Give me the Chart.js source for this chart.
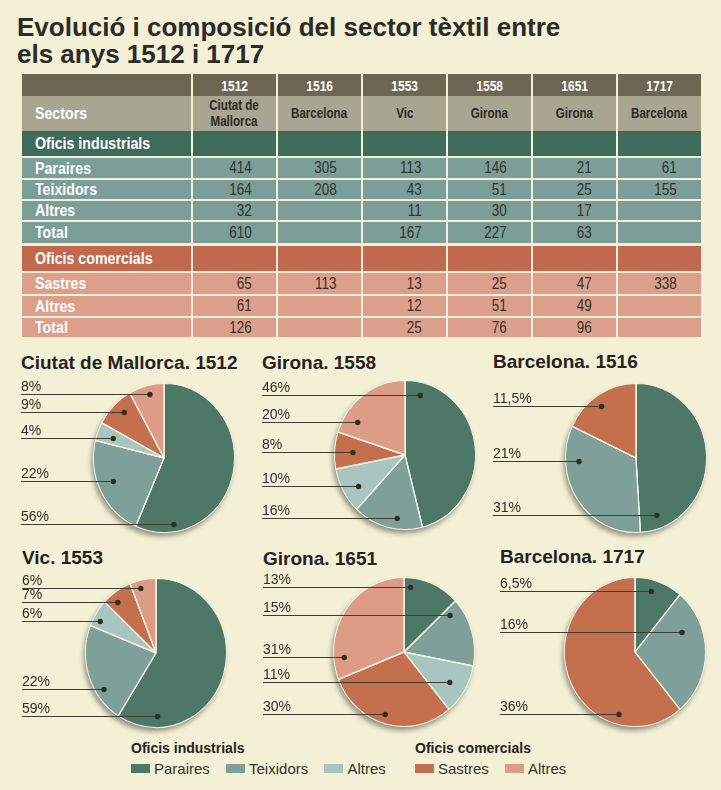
<!DOCTYPE html>
<html lang="ca">
<head>
<meta charset="utf-8">
<title>Evolució i composició del sector tèxtil</title>
<script src="https://cdn.jsdelivr.net/npm/chart.js@4.4.1/dist/chart.umd.min.js"></script>
<style>
    html, body { margin: 0; padding: 0; }
    body {
        width: 721px; height: 790px; position: relative; overflow: hidden;
        background: #f3f0d5; color: #2b2a26;
        font-family: "Liberation Sans", Arial, sans-serif;
    }
    h1 {
        position: absolute; left: 17px; top: 14px; margin: 0;
        font-size: 26px; line-height: 26.5px; font-weight: bold; color: #2b2b28;
    }
    .cell {
        position: absolute; box-sizing: border-box; display: flex; align-items: center;
        white-space: nowrap;
    }
    .cell span { display: inline-block; transform: scaleX(0.86); }
    .lbl { color: #fff; font-weight: bold; font-size: 16.5px; padding-left: 13px; }
    .lbl span { transform-origin: left center; }
    .num { justify-content: flex-end; padding-right: 24px; font-size: 16px; color: #34322c; }
    .num span { transform: scaleX(0.84); transform-origin: right center; }
    .yr { justify-content: center; color: #fff; font-weight: bold; font-size: 15px; }
    .city { justify-content: center; text-align: center; color: #2b2a25; font-weight: bold; font-size: 14.5px; line-height: 15.5px; }
    .yr span, .city span { transform: scaleX(0.8); transform-origin: center; }
    .pie-title { position: absolute; margin: 0; font-size: 19px; line-height: 19px; font-weight: bold; color: #24231f; white-space: nowrap; }
    canvas { position: absolute; }
    .legend { position: absolute; font-size: 15px; color: #34332e; }
    .legend b { display: block; font-size: 14px; color: #24231f; margin-bottom: 3px; }
    .legend span { display: inline-flex; align-items: center; margin-right: 12px; }
    .legend i { display: inline-block; width: 19px; height: 9px; margin-right: 4px; }
</style>
</head>
<body>
<h1>Evolució i composició del sector tèxtil entre<br>els anys 1512 i 1717</h1>
<div id="table"></div>
<div id="pies"></div>
<div class="legend" style="left:131px; top:740px">
    <b>Oficis industrials</b>
    <span><i style="background:#4d7767"></i>Paraires</span>
    <span><i style="background:#7fa098"></i>Teixidors</span>
    <span><i style="background:#a9c5c0"></i>Altres</span>
</div>
<div class="legend" style="left:415px; top:740px">
    <b>Oficis comercials</b>
    <span><i style="background:#c4704f"></i>Sastres</span>
    <span><i style="background:#dc9c85"></i>Altres</span>
</div>
<script>
// dades de la taula
const years = ['1512', '1516', '1553', '1558', '1651', '1717']
const places = ['Ciutat de\nMallorca', 'Barcelona', 'Vic', 'Girona', 'Girona', 'Barcelona']
const paraires = [414, 305, 113, 146, 21, 61]
const teixidors = [164, 208, 43, 51, 25, 155]
const altresInd = [32, null, 11, 30, 17, null]
const totalInd = [610, null, 167, 227, 63, null]
const sastres = [65, 113, 13, 25, 47, 338]
const altresCom = [61, null, 12, 51, 49, null]
const totalCom = [126, null, 25, 76, 96, null]

// dades dels pastissos (percentatges llegits del gràfic)
const sliceNames = ['Paraires', 'Teixidors', 'Altres', 'Sastres', 'Altres']
const pieTitles = ['Ciutat de Mallorca. 1512', 'Girona. 1558', 'Barcelona. 1516', 'Vic. 1553', 'Girona. 1651', 'Barcelona. 1717']
const slicesAll = [0, 1, 2, 3, 4]
const slicesBarcelona = [0, 1, 3]
const sharesMallorca1512 = [56, 22, 4, 9, 8]
const labelsMallorca1512 = ['56%', '22%', '4%', '9%', '8%']
const sharesGirona1558 = [46, 16, 10, 8, 20]
const labelsGirona1558 = ['46%', '16%', '10%', '8%', '20%']
const sharesBarcelona1516 = [49, 33, 18]
const labelsBarcelona1516 = ['31%', '21%', '11,5%']
const sharesVic1553 = [59, 22, 6, 7, 6]
const labelsVic1553 = ['59%', '22%', '6%', '7%', '6%']
const sharesGirona1651 = [13, 15, 11, 30, 31]
const labelsGirona1651 = ['13%', '15%', '11%', '30%', '31%']
const sharesBarcelona1717 = [11, 28, 61]
const labelsBarcelona1717 = ['6,5%', '16%', '36%']

const sliceColors = ['#4d7767', '#7fa098', '#a9c5c0', '#c4704f', '#dc9c85']
const seamColor = '#f4f2e2'

// ---- taula ----
const table = document.getElementById('table')
const colX = i => i === 0 ? 22 : 193 + (i - 1) * 85
const colW = i => i === 0 ? 169 : 83

function addCell(i, top, h, bg, cls, html) {
    const d = document.createElement('div')
    d.className = 'cell ' + (cls || '')
    d.style.cssText = `left:${colX(i)}px;top:${top}px;width:${colW(i)}px;height:${h}px;background:${bg}`
    if (html != null && html !== '') d.innerHTML = `<span>${html}</span>`
    table.appendChild(d)
}

function addRow(top, h, bg, label, values, cls) {
    addCell(0, top, h, bg, 'lbl', label)
    for (let i = 0; i < 6; i++) {
        addCell(i + 1, top, h, bg, cls, values ? values[i] : null)
    }
}

addRow(74, 22, '#6c6652', '', years, 'yr')
addRow(96, 35, '#a8a690', 'Sectors', places.map(p => p.replace('\n', '<br>')), 'city')
addRow(131, 25, '#3f6b5c', 'Oficis industrials', null)
addRow(158, 20, '#7b9f98', 'Paraires', paraires, 'num')
addRow(180, 19, '#7b9f98', 'Teixidors', teixidors, 'num')
addRow(201, 19, '#7b9f98', 'Altres', altresInd, 'num')
addRow(222, 21, '#7b9f98', 'Total', totalInd, 'num')
addRow(246, 25, '#c0694f', 'Oficis comercials', null)
addRow(273, 21, '#dc9f8b', 'Sastres', sastres, 'num')
addRow(296, 20, '#dc9f8b', 'Altres', altresCom, 'num')
addRow(318, 19, '#dc9f8b', 'Total', totalCom, 'num')

// ---- pastissos ----
const SY = 1.057 // els pastissos són una mica més alts que amples

const ellipsePlugin = {
    id: 'ellipse',
    beforeDatasetsDraw(chart) {
        const arc = chart.getDatasetMeta(0).data[0]
        const { x, y, outerRadius } = arc.getProps(['x', 'y', 'outerRadius'], true)
        const ctx = chart.ctx
        ctx.save()
        ctx.shadowColor = 'rgba(70, 70, 58, 0.55)'
        ctx.shadowBlur = 5
        ctx.shadowOffsetX = -2
        ctx.shadowOffsetY = 4
        ctx.fillStyle = seamColor
        ctx.beginPath()
        ctx.ellipse(x, y, outerRadius, outerRadius * SY, 0, 0, Math.PI * 2)
        ctx.fill()
        ctx.restore()
        ctx.save()
        ctx.translate(x, y)
        ctx.scale(1, SY)
        ctx.translate(-x, -y)
    },
    afterDatasetsDraw(chart) {
        const ctx = chart.ctx
        // fils clars entre porcions
        ctx.strokeStyle = seamColor
        ctx.lineWidth = 1.3
        chart.getDatasetMeta(0).data.forEach(arc => {
            const p = arc.getProps(['x', 'y', 'startAngle', 'outerRadius'], true)
            ctx.beginPath()
            ctx.moveTo(p.x, p.y)
            ctx.lineTo(p.x + Math.cos(p.startAngle) * p.outerRadius, p.y + Math.sin(p.startAngle) * p.outerRadius)
            ctx.stroke()
        })
        ctx.restore()
    }
}

const leaderPlugin = {
    id: 'leaders',
    afterDraw(chart, args, opts) {
        const ctx = chart.ctx
        const meta = chart.getDatasetMeta(0)
        meta.data.forEach((arc, i) => {
            const text = opts.labels[i]
            if (!text) return
            const p = arc.getProps(['x', 'y', 'startAngle', 'endAngle', 'outerRadius'], true)
            const [t, rf] = opts.anchors[i]
            const a = p.startAngle + t * (p.endAngle - p.startAngle)
            const dx = p.x + Math.cos(a) * rf * p.outerRadius
            const dy = Math.round(p.y + Math.sin(a) * rf * p.outerRadius * SY)
            ctx.save()
            ctx.strokeStyle = '#3f3d35'
            ctx.lineWidth = 1
            ctx.beginPath()
            ctx.moveTo(0, dy + 0.5)
            ctx.lineTo(dx, dy + 0.5)
            ctx.stroke()
            ctx.fillStyle = '#352e20'
            ctx.beginPath()
            ctx.arc(dx, dy + 0.5, 2.7, 0, Math.PI * 2)
            ctx.fill()
            ctx.fillStyle = '#2e2d28'
            ctx.font = '14px "Liberation Sans", Arial, sans-serif'
            ctx.textBaseline = 'alphabetic'
            ctx.fillText(text, 0, dy - 3)
            ctx.restore()
        })
    }
}

const panels = [
    { title: pieTitles[0], data: sharesMallorca1512, labels: labelsMallorca1512, slices: slicesAll, cx: 164, cy: 458, lx: 21, ty: 369,
      anchors: [[0.84, 0.9], [0.54, 0.78], [0.5, 0.77], [0.6, 0.84], [0.55, 0.88]] },
    { title: pieTitles[1], data: sharesGirona1558, labels: labelsGirona1558, slices: slicesAll, cx: 405, cy: 455, lx: 262, ty: 369,
      anchors: [[0.09, 0.84], [0.38, 0.85], [0.4, 0.78], [0.5, 0.74], [0.21, 0.8]] },
    { title: pieTitles[2], data: sharesBarcelona1516, labels: labelsBarcelona1516, slices: slicesBarcelona, cx: 636, cy: 458, lx: 493, ty: 368,
      anchors: [[0.9, 0.82], [0.76, 0.81], [0.46, 0.85]] },
    { title: pieTitles[3], data: sharesVic1553, labels: labelsVic1553, slices: slicesAll, cx: 156, cy: 653, lx: 22, ty: 564,
      anchors: [[0.84, 0.85], [0.31, 0.88], [0.32, 0.9], [0.33, 0.87], [0.36, 0.9]] },
    { title: pieTitles[4], data: sharesGirona1651, labels: labelsGirona1651, slices: slicesAll, cx: 404, cy: 652, lx: 263, ty: 565,
      anchors: [[0.13, 0.88], [0.11, 0.82], [0.52, 0.76], [0.53, 0.88], [0.15, 0.85]] },
    { title: pieTitles[5], data: sharesBarcelona1717, labels: labelsBarcelona1717, slices: slicesBarcelona, cx: 635, cy: 652, lx: 500, ty: 563,
      anchors: [[0.4, 0.85], [0.28, 0.72], [0.25, 0.86]] },
]

const pies = document.getElementById('pies')
panels.forEach(p => {
    const h = document.createElement('div')
    h.className = 'pie-title'
    h.style.left = p.lx + 'px'
    h.style.top = (p.ty - 16) + 'px'
    h.textContent = p.title
    pies.appendChild(h)

    const canvas = document.createElement('canvas')
    canvas.width = p.cx + 82 - p.lx
    canvas.height = 168
    canvas.style.left = p.lx + 'px'
    canvas.style.top = (p.cy - 84) + 'px'
    pies.appendChild(canvas)

    new Chart(canvas, {
        type: 'pie',
        data: {
            labels: p.slices.map(k => sliceNames[k]),
            datasets: [{
                data: p.data,
                backgroundColor: p.slices.map(k => sliceColors[k]),
                borderColor: seamColor,
                borderWidth: 1
            }]
        },
        options: {
            responsive: false,
            animation: false,
            layout: { padding: { left: p.cx - 71 - p.lx, right: 11, top: 13, bottom: 13 } },
            plugins: {
                legend: { display: false },
                tooltip: { enabled: false },
                leaders: { labels: p.labels, anchors: p.anchors }
            }
        },
        plugins: [ellipsePlugin, leaderPlugin]
    })
})
</script>
</body>
</html>
